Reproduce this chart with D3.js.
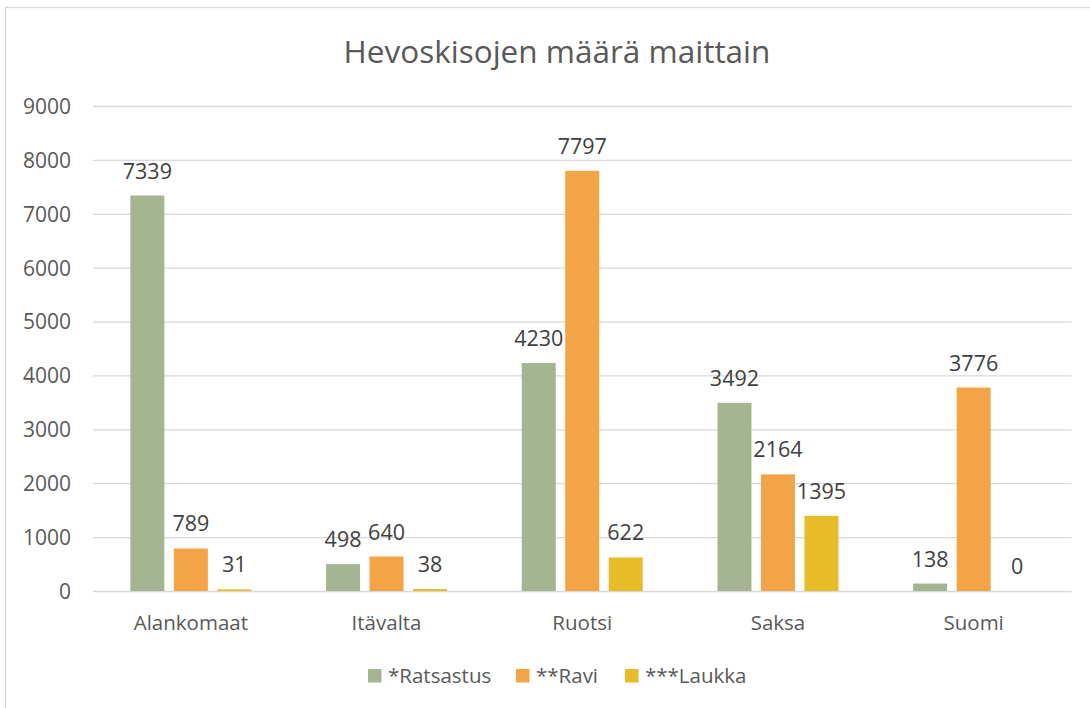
<!DOCTYPE html>
<html>
<head>
<meta charset="utf-8">
<script src="https://cdn.jsdelivr.net/npm/d3@7"></script>
<style>
  html, body { margin: 0; padding: 0; background: #fff; }
  svg { display: block; }
  text { font-family: "Open Sans", "DejaVu Sans", sans-serif; }
</style>
</head>
<body>
<svg id="chart" width="1090" height="708"></svg>
<script>
const title = "Hevoskisojen määrä maittain";
const categories = ["Alankomaat", "Itävalta", "Ruotsi", "Saksa", "Suomi"];
const seriesNames = ["*Ratsastus", "**Ravi", "***Laukka"];
const ratsastus = [7339, 498, 4230, 3492, 138];
const ravi = [789, 640, 7797, 2164, 3776];
const laukka = [31, 38, 622, 1395, 0];
const yTicks = [0, 1000, 2000, 3000, 4000, 5000, 6000, 7000, 8000, 9000];
const colors = ["#A5B592", "#F3A447", "#E7BC29"];

const seriesValues = [ratsastus, ravi, laukka];

const svg = d3.select("#chart");

// outer chart frame
svg.append("rect")
  .attr("x", 5.5).attr("y", 7.5)
  .attr("width", 1200).attr("height", 800)
  .attr("fill", "#fff").attr("stroke", "#d9d9d9").attr("stroke-width", 1.3);

const plot = { left: 93, right: 1071.5, top: 106, bottom: 591 };

const x0 = d3.scaleBand().domain(categories).range([plot.left, plot.right]).paddingInner(0).paddingOuter(0);
const groupInner = 121;
const x1 = d3.scaleBand().domain(seriesNames)
  .range([(x0.bandwidth() - groupInner) / 2, (x0.bandwidth() + groupInner) / 2])
  .paddingInner(0.218).paddingOuter(0);
const y = d3.scaleLinear().domain([0, 9000]).range([plot.bottom, plot.top]);

// gridlines
const yAxis = d3.axisLeft(y).tickValues(yTicks).tickSize(-(plot.right - plot.left)).tickPadding(22).tickFormat(d3.format("d"));
const gy = svg.append("g").attr("transform", `translate(${plot.left},0)`).call(yAxis);
gy.select(".domain").remove();
gy.selectAll(".tick line").attr("stroke", "#d9d9d9").attr("stroke-width", 1.3);
gy.selectAll(".tick text").attr("fill", "#595959").attr("font-size", 21).attr("font-family", "Open Sans").attr("dy", "0.35em");

// bars
const data = [];
categories.forEach((c, i) => {
  seriesNames.forEach((s, j) => data.push({ cat: c, ser: s, j, value: seriesValues[j][i] }));
});

const groups = svg.append("g");
groups.selectAll("rect.bar").data(data).join("rect")
  .attr("class", "bar")
  .attr("x", d => x0(d.cat) + x1(d.ser))
  .attr("y", d => y(d.value))
  .attr("width", x1.bandwidth())
  .attr("height", d => y(0) - y(d.value))
  .attr("fill", d => colors[d.j]);

// data labels
groups.selectAll("text.lbl").data(data).join("text")
  .attr("class", "lbl")
  .attr("x", d => x0(d.cat) + x1(d.ser) + x1.bandwidth() / 2)
  .attr("y", d => y(d.value) - 17)
  .attr("text-anchor", "middle")
  .attr("fill", "#404040")
  .attr("font-size", 21.5)
  .text(d => d.value);

// category axis labels
const xAxis = d3.axisBottom(x0).tickSize(0).tickPadding(0);
const gx = svg.append("g").attr("transform", `translate(0,${plot.bottom})`).call(xAxis);
gx.select(".domain").remove();
gx.selectAll(".tick text").attr("fill", "#595959").attr("font-size", 20.5).attr("font-family", "Open Sans")
  .attr("dy", null).attr("y", 39);

// title
svg.append("text")
  .attr("x", 557).attr("y", 63)
  .attr("text-anchor", "middle")
  .attr("fill", "#595959")
  .attr("font-size", 31.5)
  .text(title);

// legend
const legendItems = [
  { name: seriesNames[0], sq: 368, tx: 388 },
  { name: seriesNames[1], sq: 516, tx: 536 },
  { name: seriesNames[2], sq: 625, tx: 645 }
];
const lg = svg.append("g");
legendItems.forEach((it, i) => {
  lg.append("rect").attr("x", it.sq).attr("y", 669).attr("width", 13.5).attr("height", 13.5).attr("fill", colors[i]);
  lg.append("text").attr("x", it.tx).attr("y", 683).attr("fill", "#595959").attr("font-size", 20.5).text(it.name);
});
</script>
</body>
</html>
